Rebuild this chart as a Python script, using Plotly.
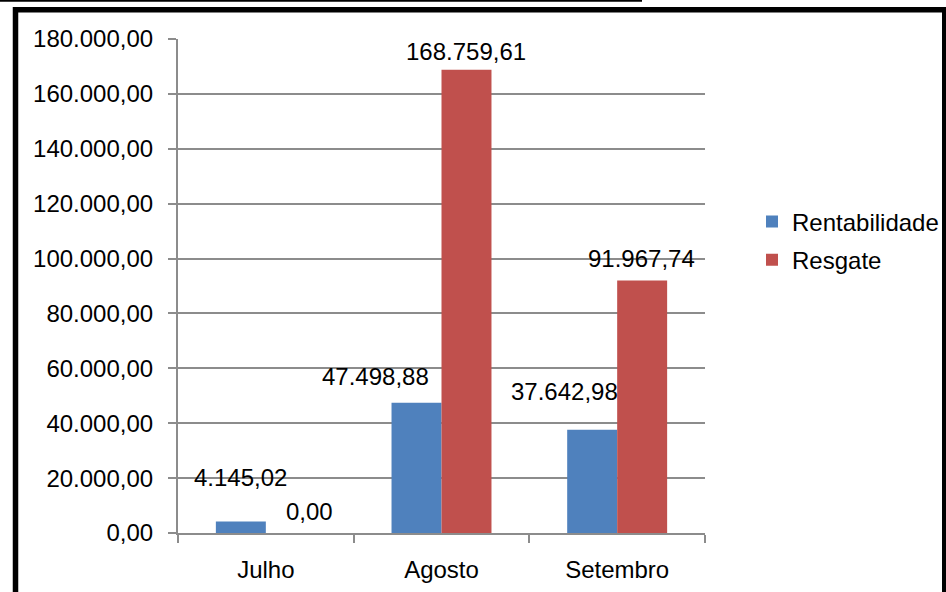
import plotly.graph_objects as go

categories = ["Julho", "Agosto", "Setembro"]
rentabilidade = [4145.02, 47498.88, 37642.98]
resgate = [0.00, 168759.61, 91967.74]
series_names = ["Rentabilidade", "Resgate"]
y_ticks = [0, 20000, 40000, 60000, 80000, 100000, 120000, 140000, 160000, 180000]

# pixel layout of the reference
W, H = 946, 592
L, R, T, B = 178, 705, 39, 533
def px_x(p):
    return (p - L) / (R - L)
def px_y(p):
    return (B - p) / (B - T)

FONT = "Liberation Sans, Arial, sans-serif"
BLUE = "#4F81BD"
RED = "#C0504D"
GRID = "#8C8C8C"
BARGAP = 0.431

fig = go.Figure()
fig.add_trace(go.Bar(name=series_names[0], x=categories, y=rentabilidade,
                     marker=dict(color=BLUE, line=dict(width=0)), legendgroup="a"))
fig.add_trace(go.Bar(name=series_names[1], x=categories, y=resgate,
                     marker=dict(color=RED, line=dict(width=0)), legendgroup="b"))

# data labels (label offsets in pixels, style only)
half = (1 - BARGAP) / 4
label_shifts = {
    0: [(0, 44), (-41, 26), (-28, 38)],
    1: [(19, 22), (0, 18), (-1, 22)],
}
fmt = lambda v: f"{v:,.2f}".replace(",", "X").replace(".", ",").replace("X", ".")
annotations = []
for s, vals in enumerate([rentabilidade, resgate]):
    off = -half if s == 0 else half
    for i, v in enumerate(vals):
        dx, dy = label_shifts[s][i]
        annotations.append(dict(x=i + off, y=v, xref="x", yref="y", text=fmt(v),
                                showarrow=False, xanchor="center", yanchor="middle",
                                xshift=dx, yshift=dy,
                                font=dict(family=FONT, size=24, color="#000000")))

shapes = [
    # thin line at very top
    dict(type="line", xref="paper", yref="paper", x0=px_x(-2), x1=px_x(642),
         y0=px_y(0.7), y1=px_y(0.7), line=dict(color="#000000", width=2)),
    # thick black frame
    dict(type="line", xref="paper", yref="paper", x0=px_x(15.5), x1=px_x(15.5),
         y0=px_y(7), y1=px_y(600), line=dict(color="#000000", width=5.5)),
    dict(type="line", xref="paper", yref="paper", x0=px_x(13), x1=px_x(946),
         y0=px_y(9.8), y1=px_y(9.8), line=dict(color="#000000", width=5.5)),
    dict(type="line", xref="paper", yref="paper", x0=px_x(944), x1=px_x(944),
         y0=px_y(7), y1=px_y(600), line=dict(color="#000000", width=4)),
]

fig.update_layout(
    width=W, height=H,
    margin=dict(l=L, r=W - R, t=T, b=H - B, pad=0, autoexpand=False),
    paper_bgcolor="#FFFFFF", plot_bgcolor="#FFFFFF",
    barmode="group", bargap=BARGAP, bargroupgap=0,
    separators=",.",
    font=dict(family=FONT, size=24, color="#000000"),
    showlegend=True,
    legend=dict(x=px_x(752), y=px_y(241), xanchor="left", yanchor="middle",
                font=dict(family=FONT, size=24, color="#000000"),
                bgcolor="rgba(0,0,0,0)", borderwidth=0, tracegroupgap=4,
                itemclick=False),
    annotations=annotations,
    shapes=shapes,
)
fig.update_xaxes(
    type="category", showgrid=False, showline=True, linecolor=GRID, linewidth=2,
    ticks="outside", tickson="boundaries", ticklen=8, tickcolor=GRID, tickwidth=2,
    ticklabelstandoff=14,
    tickfont=dict(family=FONT, size=24, color="#000000"), zeroline=False,
    range=[-0.5, 2.5],
)
fig.update_yaxes(
    range=[0, 180000], tickvals=y_ticks, tickformat=",.2f",
    showgrid=True, gridcolor=GRID, gridwidth=2,
    showline=True, linecolor=GRID, linewidth=2,
    ticks="outside", ticklen=8, tickcolor=GRID, tickwidth=2,
    ticklabelstandoff=10,
    tickfont=dict(family=FONT, size=24, color="#000000"), zeroline=False,
)

fig.write_html("out.html", config={"displayModeBar": False},
               post_script="document.body.style.margin='0';document.body.style.overflow='hidden';")
